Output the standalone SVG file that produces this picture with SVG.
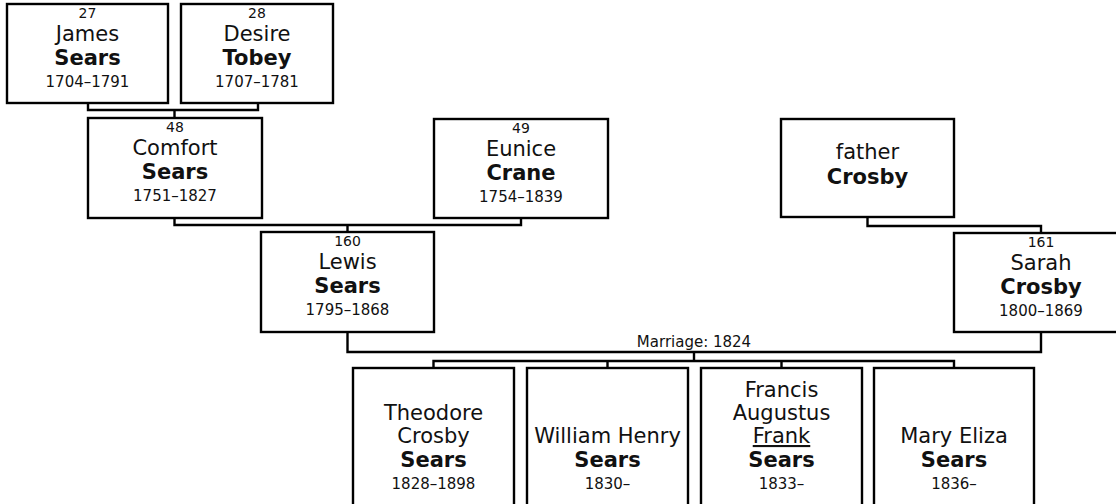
<svg xmlns="http://www.w3.org/2000/svg" width="1116" height="504" viewBox="0 0 1116 504">
<style>
  .box { fill: #ffffff; stroke: #000000; stroke-width: 2.4; }
  .conn { fill: none; stroke: #000000; stroke-width: 2.4; }
  text { font-family: "DejaVu Sans", Verdana, sans-serif; fill: #111111; text-anchor: middle; }
  .num { font-size: 14px; }
  .given { font-size: 21px; }
  .sur { font-size: 21px; font-weight: bold; }
  .date { font-size: 15px; }
  .marr { font-size: 15px; }
  .u { text-decoration: underline; }
</style>
<rect width="1116" height="504" fill="#ffffff"/>
<g id="connectors">
  <path class="conn" d="M88,103 V110 H258 V103 M174.5,110 V118"/>
  <path class="conn" d="M174.5,218 V225 H521 V218 M347.5,225 V232"/>
  <path class="conn" d="M867.5,217 V226 H1041 V233"/>
  <path class="conn" d="M347.5,332 V352 H1041 V332 M694,352 V361"/>
  <path class="conn" d="M433.5,368 V361 H954 V368 M607.5,361 V368 M781.5,361 V368"/>
  <text class="marr" x="694" y="347">Marriage: 1824</text>
</g>
<g id="n27">
  <rect class="box" x="7" y="4" width="161" height="99"/>
  <text class="num" x="87.5" y="18">27</text>
  <text class="given" x="87.5" y="41">James</text>
  <text class="sur" x="87.5" y="65">Sears</text>
  <text class="date" x="87.5" y="87">1704–1791</text>
</g>
<g id="n28">
  <rect class="box" x="181" y="4" width="152" height="99"/>
  <text class="num" x="257" y="18">28</text>
  <text class="given" x="257" y="41">Desire</text>
  <text class="sur" x="257" y="65">Tobey</text>
  <text class="date" x="257" y="87">1707–1781</text>
</g>
<g id="n48">
  <rect class="box" x="88" y="118" width="174" height="100"/>
  <text class="num" x="175" y="132">48</text>
  <text class="given" x="175" y="155">Comfort</text>
  <text class="sur" x="175" y="179">Sears</text>
  <text class="date" x="175" y="201">1751–1827</text>
</g>
<g id="n49">
  <rect class="box" x="434" y="119" width="174" height="99"/>
  <text class="num" x="521" y="133">49</text>
  <text class="given" x="521" y="156">Eunice</text>
  <text class="sur" x="521" y="180">Crane</text>
  <text class="date" x="521" y="202">1754–1839</text>
</g>
<g id="father-crosby">
  <rect class="box" x="781" y="119" width="173" height="98"/>
  <text class="given" x="867.5" y="159">father</text>
  <text class="sur" x="867.5" y="184">Crosby</text>
</g>
<g id="n160">
  <rect class="box" x="261" y="232" width="173" height="100"/>
  <text class="num" x="347.5" y="246">160</text>
  <text class="given" x="347.5" y="269">Lewis</text>
  <text class="sur" x="347.5" y="293">Sears</text>
  <text class="date" x="347.5" y="315">1795–1868</text>
</g>
<g id="n161">
  <rect class="box" x="954" y="233" width="174" height="99"/>
  <text class="num" x="1041" y="247">161</text>
  <text class="given" x="1041" y="270">Sarah</text>
  <text class="sur" x="1041" y="294">Crosby</text>
  <text class="date" x="1041" y="316">1800–1869</text>
</g>
<g id="theodore">
  <rect class="box" x="353" y="368" width="161" height="145"/>
  <text class="given" x="433.5" y="420">Theodore</text>
  <text class="given" x="433.5" y="443">Crosby</text>
  <text class="sur" x="433.5" y="467">Sears</text>
  <text class="date" x="433.5" y="489">1828–1898</text>
</g>
<g id="william">
  <rect class="box" x="527" y="368" width="161" height="145"/>
  <text class="given" x="607.5" y="443">William Henry</text>
  <text class="sur" x="607.5" y="467">Sears</text>
  <text class="date" x="607.5" y="489">1830–</text>
</g>
<g id="francis">
  <rect class="box" x="701" y="368" width="161" height="145"/>
  <text class="given" x="781.5" y="397">Francis</text>
  <text class="given" x="781.5" y="420">Augustus</text>
  <text class="given u" x="781.5" y="443">Frank</text>
  <text class="sur" x="781.5" y="467">Sears</text>
  <text class="date" x="781.5" y="489">1833–</text>
</g>
<g id="mary">
  <rect class="box" x="874" y="368" width="160" height="145"/>
  <text class="given" x="954" y="443">Mary Eliza</text>
  <text class="sur" x="954" y="467">Sears</text>
  <text class="date" x="954" y="489">1836–</text>
</g>
</svg>
